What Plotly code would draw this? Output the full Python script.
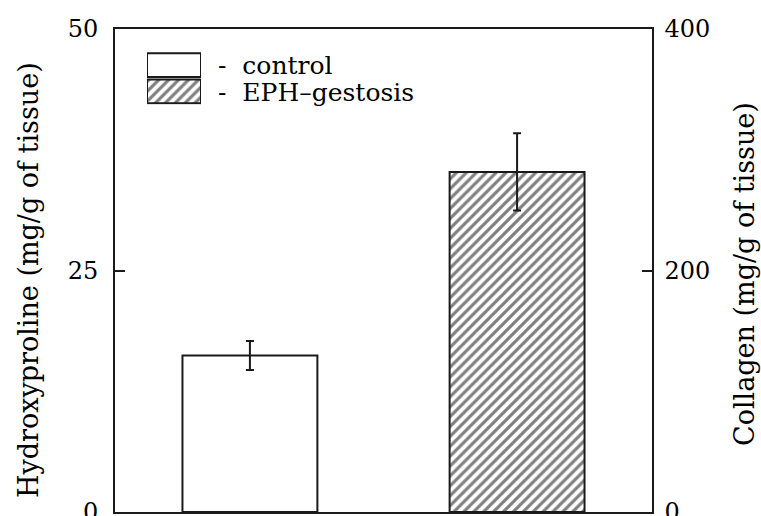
import plotly.graph_objects as go

# Data
groups = ["control", "EPH-gestosis"]
hydroxyproline = [16.2, 35.2]     # mg/g of tissue
errors = [1.5, 4.0]
left_ticks = [0, 25, 50]
right_ticks = [0, 200, 400]
legend_labels = ["-\u00a0\u00a0control", "-\u00a0\u00a0EPH\u2013gestosis"]

FONT = "DejaVu Serif"
INK = "#1a1a1a"

W, H = 761, 516
L, R, T, B = 115, 652, 29, 512
pw, ph = R - L, B - T

def px_x(x):
    return (x - L) / pw

def px_y(y):
    return (B - y) / ph

fig = go.Figure()

hatch = dict(shape="/", fgcolor="black", bgcolor="white", size=7, solidity=0.45)

xpos = [1, 2]
fig.add_trace(go.Bar(
    x=[xpos[0]], y=[hydroxyproline[0]], width=0.505,
    marker=dict(color="white", line=dict(color=INK, width=2)),
    error_y=dict(type="data", array=[errors[0]], color=INK, thickness=2, width=4),
    showlegend=False, hoverinfo="skip",
))
fig.add_trace(go.Bar(
    x=[xpos[1]], y=[hydroxyproline[1]], width=0.505,
    marker=dict(color="white", line=dict(color=INK, width=2), pattern=hatch),
    error_y=dict(type="data", array=[errors[1]], color=INK, thickness=2, width=4),
    showlegend=False, hoverinfo="skip",
))

# secondary (collagen) axis carrier trace
fig.add_trace(go.Scatter(x=[xpos[0]], y=[0], yaxis="y2", mode="markers",
                         marker=dict(opacity=0), showlegend=False, hoverinfo="skip"))

# Legend swatches in an inset axis
fig.add_trace(go.Bar(
    y=[1], x=[1], orientation="h", width=0.9, xaxis="x3", yaxis="y3",
    marker=dict(color="white", line=dict(color=INK, width=2)),
    showlegend=False, hoverinfo="skip",
))
fig.add_trace(go.Bar(
    y=[0], x=[1], orientation="h", width=0.9, xaxis="x3", yaxis="y3",
    marker=dict(color="white", line=dict(color=INK, width=2), pattern=hatch),
    showlegend=False, hoverinfo="skip",
))

tickfont = dict(family=FONT, size=24, color="black")

fig.update_layout(
    width=W, height=H,
    margin=dict(l=L, r=W - R, t=T, b=H - B, pad=0, autoexpand=False),
    paper_bgcolor="white", plot_bgcolor="white",
    barmode="overlay",
    xaxis=dict(range=[0.495, 2.505], showticklabels=False, ticks="",
               showgrid=False, zeroline=False, showline=True, linecolor=INK,
               linewidth=2, mirror=True, automargin=False),
    yaxis=dict(range=[0, 50], tickvals=left_ticks, ticks="inside", ticklen=10,
               tickwidth=1.5, tickcolor=INK, showgrid=False, zeroline=False,
               showline=True, linecolor=INK, linewidth=2, tickfont=tickfont,
               ticklabelstandoff=10, ticklabeloverflow="allow", automargin=False),
    yaxis2=dict(range=[0, 400], tickvals=right_ticks, overlaying="y", side="right",
                ticks="inside", ticklen=10, tickwidth=1.5, tickcolor=INK,
                showgrid=False, zeroline=False, showline=True, linecolor=INK,
                linewidth=1.5, tickfont=tickfont, ticklabelstandoff=6,
                ticklabeloverflow="allow", automargin=False),
    xaxis3=dict(domain=[px_x(147), px_x(201)], range=[0, 1], visible=False,
                anchor="y3", fixedrange=True),
    yaxis3=dict(domain=[px_y(104.5), px_y(52)], range=[-0.5, 1.5], visible=False,
                anchor="x3", fixedrange=True),
    showlegend=False,
)

ann_font = dict(family=FONT, size=25, color="black")
fig.add_annotation(x=px_x(216), y=px_y(65), xref="paper", yref="paper",
                   text=legend_labels[0], showarrow=False, xanchor="left",
                   yanchor="middle", font=ann_font)
fig.add_annotation(x=px_x(216), y=px_y(93), xref="paper", yref="paper",
                   text=legend_labels[1], showarrow=False, xanchor="left",
                   yanchor="middle", font=ann_font)

title_font = dict(family=FONT, size=27, color="black")
fig.add_annotation(x=px_x(28), y=px_y(280), xref="paper", yref="paper",
                   text="Hydroxyproline (mg/g of tissue)", textangle=-90,
                   showarrow=False, xanchor="center", yanchor="middle",
                   font=title_font)
fig.add_annotation(x=px_x(744), y=px_y(274), xref="paper", yref="paper",
                   text="Collagen (mg/g of tissue)", textangle=-90,
                   showarrow=False, xanchor="center", yanchor="middle",
                   font=title_font)

fig.write_html("out.html", config={"displayModeBar": False},
               post_script="document.body.style.margin='0';")
